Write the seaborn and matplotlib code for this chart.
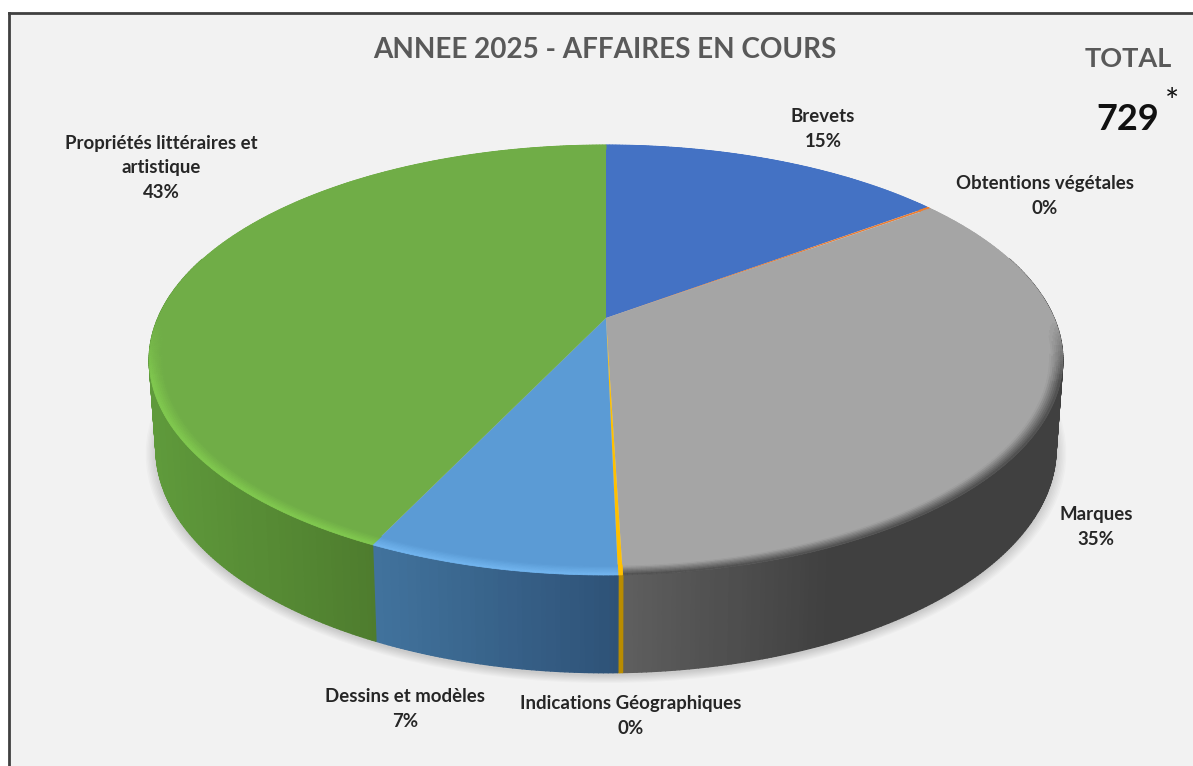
import numpy as np
import matplotlib
matplotlib.use('Agg')
import matplotlib.pyplot as plt
import seaborn as sns
from matplotlib.collections import PolyCollection
from matplotlib.transforms import Transform

# affaires en cours par domaine (total 729)
categories = ['Brevets', 'Obtentions végétales', 'Marques',
              'Indications Géographiques', 'Dessins et modèles',
              'Propriétés littéraires et\nartistique']
counts = [108, 1, 252, 1, 54, 313]
pct_labels = ['15%', '0%', '35%', '0%', '7%', '43%']
top_colors = ['#4472C4', '#ED7D31', '#A5A5A5', '#FFC000', '#5B9BD5', '#70AD47']
side_left = ['#35589A', '#A85820', '#5E5E5E', '#B98C00', '#41729C', '#5F9A3B']
side_right = ['#2C4A80', '#A85820', '#404040', '#B98C00', '#2E5277', '#4E7C2E']
side_gain = [1, 1, 2.2, 1, 1, 1]
bevel_colors = ['#4472C4', '#ED7D31', '#454545', '#FFC000', '#74B8F2', '#83CC50']
label_pos = [(823, 129), (1045, 196), (1096, 527), (631, 716), (405, 709), (161, 168)]

sns.set_theme(style='white')
plt.rcParams['font.family'] = ['Lato', 'DejaVu Sans']


class DiskView(Transform):
    # vue en perspective du disque unite vers les pixels de l'image
    input_dims = 2
    output_dims = 2
    is_separable = False
    has_inverted = False

    def __init__(self, cx, apex, a, b, k=0.195):
        super().__init__()
        self.cx, self.apex, self.a, self.b, self.k = cx, apex, a, b, k

    def transform_non_affine(self, xy):
        xy = np.asarray(xy, dtype=float)
        d = 1 + self.k * xy[:, 1]
        return np.column_stack([self.cx + self.a * xy[:, 0] / d,
                                self.apex - self.b * xy[:, 1] / d])


top_view = DiskView(606, 318, 448, 206.9)
bottom_view = DiskView(606, 405, 441.4, 215.5)
shadow_view = DiskView(606, 408, 441.4, 215.5)


def rim(view, theta, r=1.0):
    pts = np.column_stack([r * np.sin(theta), r * np.cos(theta)])
    return view.transform_non_affine(pts)


fig = plt.figure(figsize=(11.93, 7.66), dpi=100, facecolor='white')
ax = fig.add_axes([9 / 1193, 0, 1184 / 1193, 753 / 766], facecolor='#F2F2F2')

# ombre portee sous le disque
for r in np.linspace(1.022, 1.0, 8):
    ax.pie([1], radius=r, colors=['#000000'], labeldistance=None,
           wedgeprops={'transform': shadow_view + ax.transData, 'alpha': 0.02,
                       'linewidth': 0, 'zorder': 1})

edges = np.cumsum([0] + counts) / sum(counts) * 2 * np.pi

# flanc du disque, bande par bande
side_polys, side_cols = [], []
for i in range(len(counts)):
    n = max(3, int(np.degrees(edges[i + 1] - edges[i]) * 2))
    th = np.linspace(edges[i], edges[i + 1], n + 1)
    up = rim(top_view, th)
    low = rim(bottom_view, th)
    mid_x = (up[:-1, 0] + up[1:, 0]) / 2
    mid_th = (th[:-1] + th[1:]) / 2
    seen = np.cos(mid_th) < 0.3
    if not seen.any():
        continue
    span = max(np.ptp(mid_x[seen]), 1)
    grad = np.array(sns.blend_palette([side_left[i], side_right[i]], 32))
    for j in np.where(seen)[0]:
        f = min((mid_x[j] - mid_x[seen].min()) / span * side_gain[i], 1)
        side_polys.append([up[j], up[j + 1], low[j + 1], low[j]])
        side_cols.append(grad[int(f * 31)])
ax.add_collection(PolyCollection(side_polys, facecolors=side_cols, edgecolors=side_cols,
                                 linewidths=1.0, zorder=2))

# dessus du disque
ax.pie(counts, colors=top_colors, startangle=90, counterclock=False, labeldistance=None,
       wedgeprops={'transform': top_view + ax.transData, 'linewidth': 0, 'zorder': 3})

# biseau le long du bord avant
ring_r = np.linspace(0.968, 1.0, 9)
ring_polys, ring_cols = [], []
for i in range(len(counts)):
    n = max(3, int(np.degrees(edges[i + 1] - edges[i]) * 2))
    th = np.linspace(edges[i], edges[i + 1], n + 1)
    for r1, r2 in zip(ring_r[:-1], ring_r[1:]):
        t_ring = ((r1 + r2) / 2 - ring_r[0]) / (ring_r[-1] - ring_r[0])
        a, b = rim(top_view, th, r1), rim(top_view, th, r2)
        for j in range(n):
            w = np.clip((0.0 - np.cos((th[j] + th[j + 1]) / 2)) / 0.3, 0, 1) * t_ring ** 1.3
            col = np.array(sns.blend_palette([top_colors[i], bevel_colors[i]], 16))[int(w * 15)]
            ring_polys.append([a[j], a[j + 1], b[j + 1], b[j]])
            ring_cols.append(col)
ax.add_collection(PolyCollection(ring_polys, facecolors=ring_cols, edgecolors=ring_cols,
                                 linewidths=0.5, zorder=4))

ax.set_aspect('auto')
ax.set_xlim(9, 1193)
ax.set_ylim(766, 13)
ax.set_axis_on()
ax.set_xticks([])
ax.set_yticks([])
ax.set_frame_on(True)
for side in ['right', 'bottom']:
    ax.spines[side].set_visible(False)
for side in ['left', 'top']:
    ax.spines[side].set_visible(True)
    ax.spines[side].set_color('#404040')
    ax.spines[side].set_linewidth(2)

for name, pct, (x, y) in zip(categories, pct_labels, label_pos):
    ax.text(x, y, name + '\n' + pct, ha='center', va='center', fontsize=13.4,
            fontweight='bold', color='#262626', linespacing=1.55, zorder=6)

ax.text(605, 50, 'ANNEE 2025 - AFFAIRES EN COURS', ha='center', va='center',
        fontsize=20.1, fontweight='bold', color='#595959')
ax.text(1128, 59, 'TOTAL', ha='center', va='center', fontsize=19.5,
        fontweight='bold', color='#595959')
ax.text(1128, 120, '729', ha='center', va='center', fontsize=26,
        fontweight='bold', color='#111111')
ax.text(1172, 103, '*', ha='center', va='center', fontsize=24, color='#111111')

fig.savefig('out.png', dpi=100, facecolor='white')
